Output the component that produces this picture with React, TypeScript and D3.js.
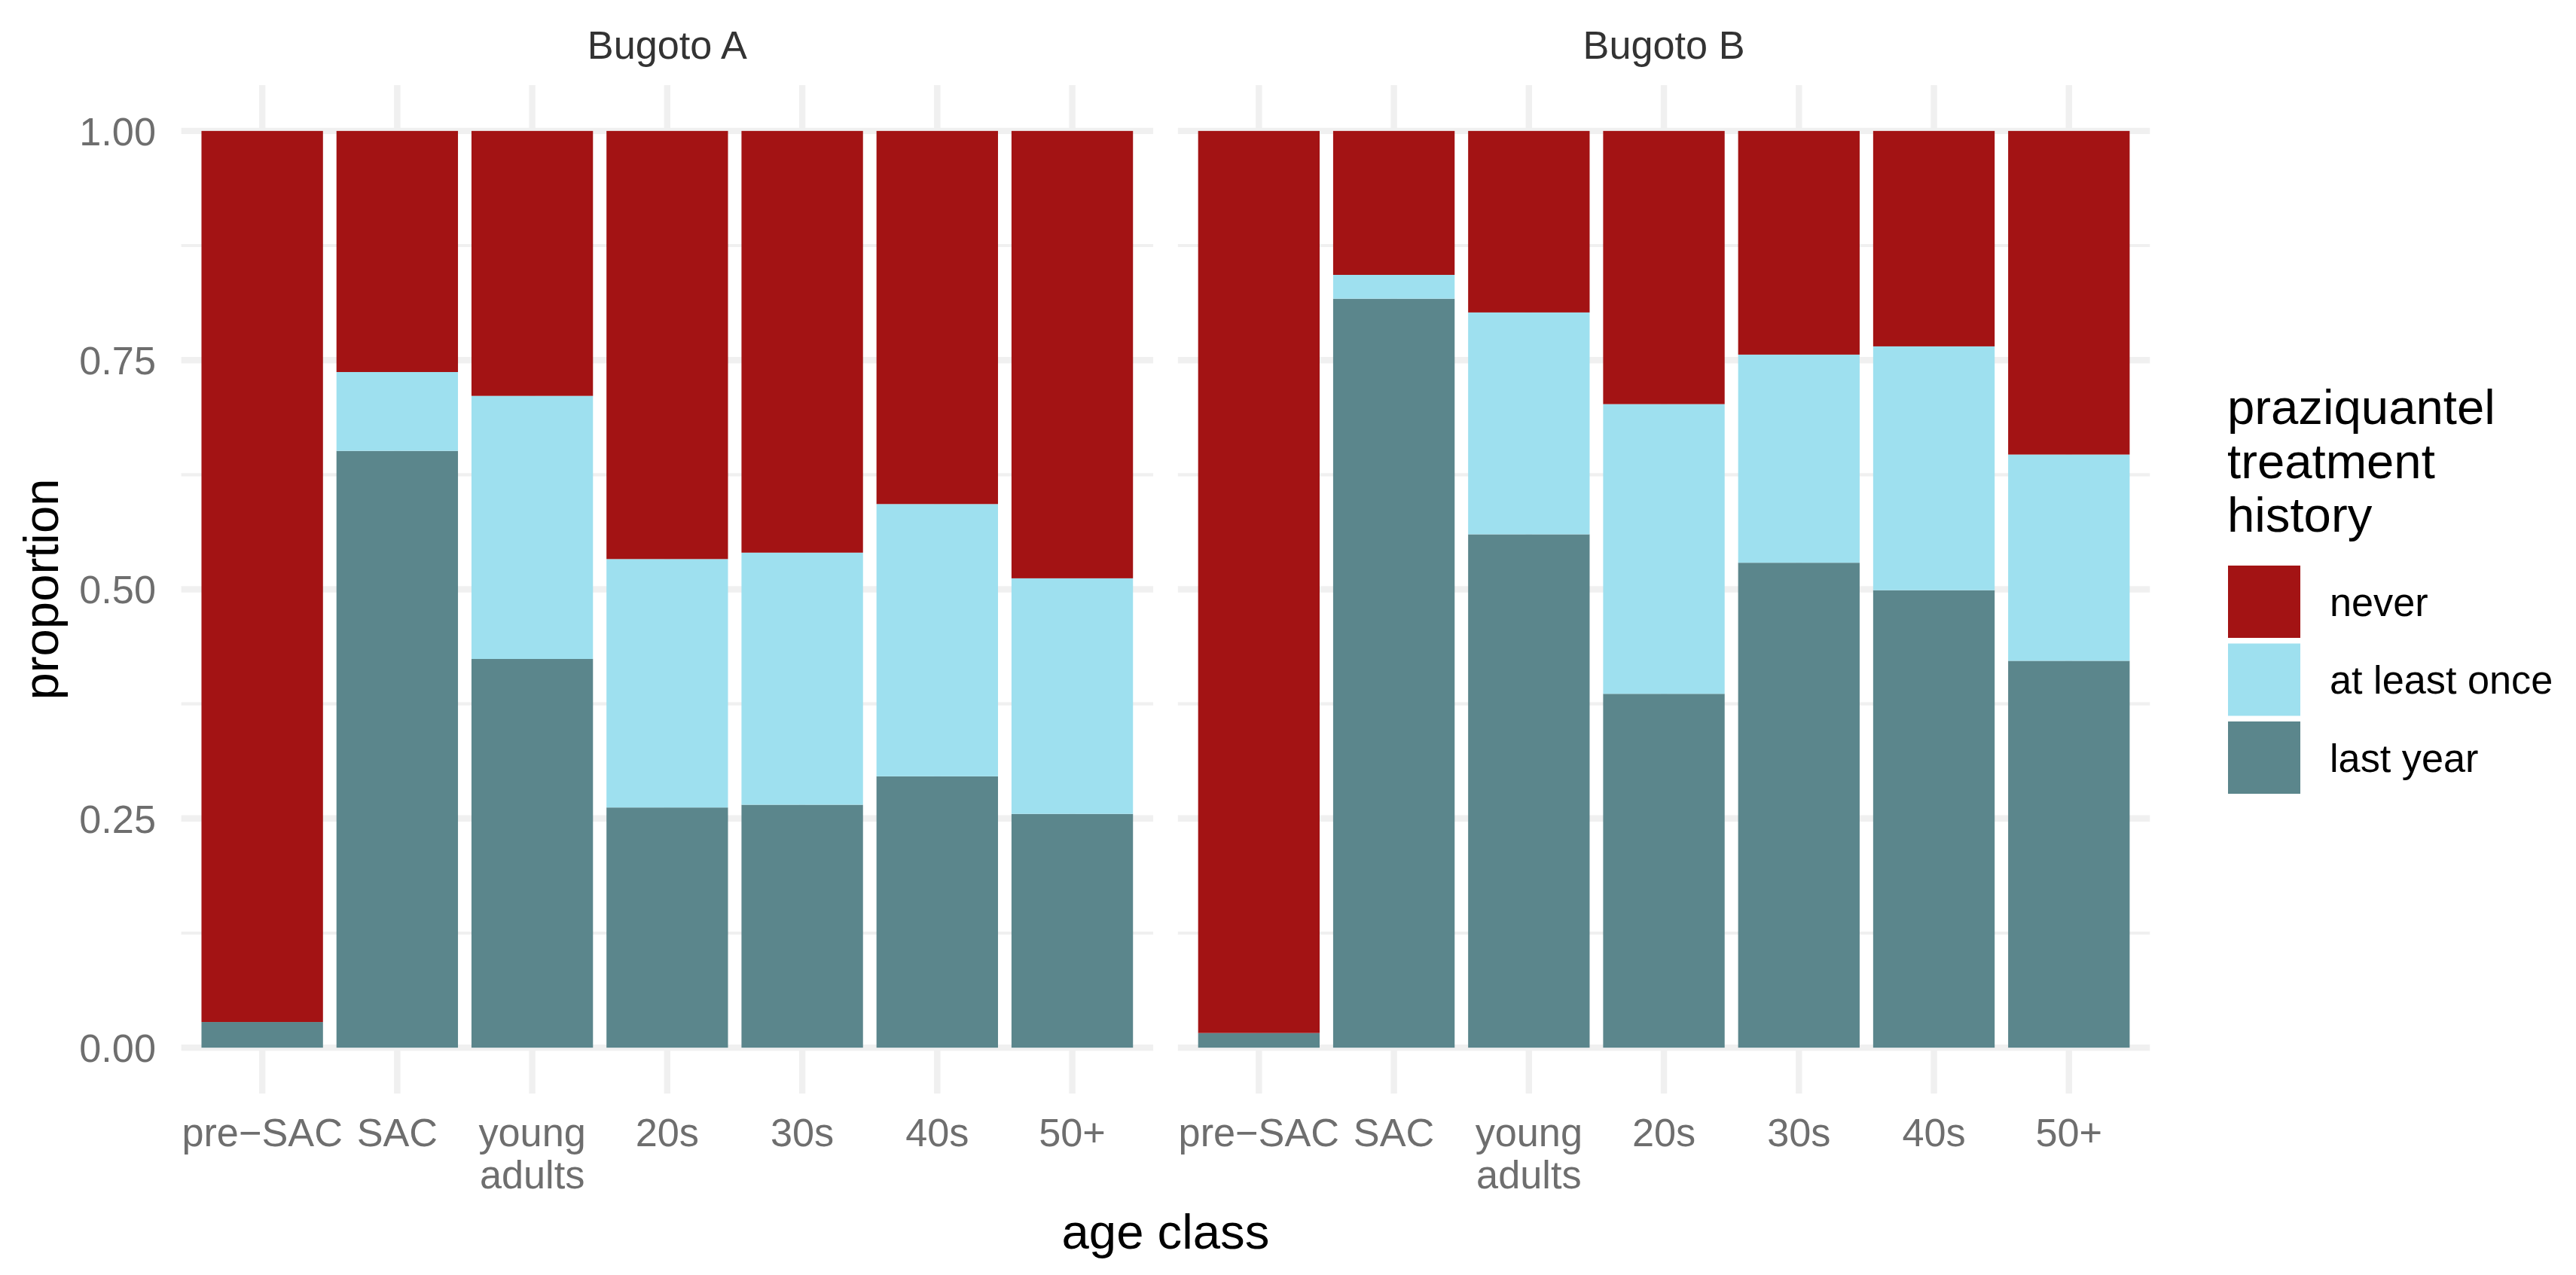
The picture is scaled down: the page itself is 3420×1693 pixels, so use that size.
import React from 'react';
import * as d3 from 'd3';

// age classes, in axis order
const ageClasses = ['pre-SAC', 'SAC', 'young adults', '20s', '30s', '40s', '50+'];
const tickLabels = [['pre\u2212SAC'], ['SAC'], ['young', 'adults'], ['20s'], ['30s'], ['40s'], ['50+']];
const sites = ['Bugoto A', 'Bugoto B'];

// treatment history levels, bottom of the stack first
const historyKeys = ['last year', 'at least once', 'never'];
const legendOrder = ['never', 'at least once', 'last year'];
const historyColors = ['#5B868C', '#9EE0EF', '#A31314'];

// proportions
const lastYearA = [0.028, 0.651, 0.424, 0.262, 0.265, 0.296, 0.255];
const atLeastOnceA = [0.0, 0.086, 0.287, 0.271, 0.275, 0.297, 0.257];
const neverA = [0.972, 0.263, 0.289, 0.467, 0.46, 0.407, 0.488];

const lastYearB = [0.016, 0.817, 0.56, 0.386, 0.529, 0.499, 0.422];
const atLeastOnceB = [0.0, 0.026, 0.242, 0.316, 0.227, 0.266, 0.225];
const neverB = [0.984, 0.157, 0.198, 0.298, 0.244, 0.235, 0.353];

const yTicks = [0, 0.25, 0.5, 0.75, 1];
const yMinor = [0.125, 0.375, 0.625, 0.875];

const W = 3420;
const H = 1693;
const FONT = "'Liberation Sans', Arial, Helvetica, sans-serif";
const pt = 5.9375; // px per pt

export default function App(): JSX.Element {
  const panelLeft = 240.6;
  const panelGap = 32.7;
  const panelW = 1290.5;
  const panelTop = 113;
  const panelBottom = 1452;

  const tables = [
    { site: sites[0], ly: lastYearA, alo: atLeastOnceA, nv: neverA },
    { site: sites[1], ly: lastYearB, alo: atLeastOnceB, nv: neverB }
  ].map((p) =>
    ageClasses.map((a, i) => ({
      age: a,
      'last year': p.ly[i],
      'at least once': p.alo[i],
      never: p.nv[i]
    }))
  );

  const y = d3.scaleLinear().domain([-0.05, 1.05]).range([panelBottom, panelTop]);
  const color = d3.scaleOrdinal<string, string>().domain(historyKeys).range(historyColors);
  const stack = d3.stack<any>().keys(historyKeys);

  const tickSize = 8.8 * pt;
  const titleSize = 11 * pt;
  const gridCol = '#F0F0F0';
  const tickCol = '#6E6E6E';

  const panels = sites.map((site, pi) => {
    const x0 = panelLeft + pi * (panelW + panelGap);
    const x = d3
      .scaleBand()
      .domain(ageClasses)
      .range([x0, x0 + panelW])
      .paddingInner(0.1)
      .paddingOuter(0.15);
    const series = stack(tables[pi]);
    return (
      <g key={site}>
        {yMinor.map((t) => (
          <line key={'mn' + t} x1={x0} x2={x0 + panelW} y1={y(t)} y2={y(t)} stroke={gridCol} strokeWidth={4.2} />
        ))}
        {yTicks.map((t) => (
          <line key={'mj' + t} x1={x0} x2={x0 + panelW} y1={y(t)} y2={y(t)} stroke={gridCol} strokeWidth={8.4} />
        ))}
        {ageClasses.map((a) => {
          const cx = (x(a) as number) + x.bandwidth() / 2;
          return <line key={'v' + a} x1={cx} x2={cx} y1={panelTop} y2={panelBottom} stroke={gridCol} strokeWidth={8.4} />;
        })}
        {series.map((s) =>
          s.map((d: any) => (
            <rect
              key={s.key + d.data.age}
              x={x(d.data.age)}
              width={x.bandwidth()}
              y={y(d[1])}
              height={Math.max(0, y(d[0]) - y(d[1]))}
              fill={color(s.key)}
            />
          ))
        )}
        <text
          x={x0 + panelW / 2}
          y={78}
          textAnchor="middle"
          fontSize={tickSize}
          fill="#333333"
          fontFamily={FONT}
        >
          {site}
        </text>
        {ageClasses.map((a, i) => {
          const cx = (x(a) as number) + x.bandwidth() / 2;
          return (
            <text key={'xl' + a} x={cx} y={1522} textAnchor="middle" fontSize={tickSize} fill={tickCol} fontFamily={FONT}>
              {tickLabels[i].map((ln, j) => (
                <tspan key={j} x={cx} dy={j === 0 ? 0 : 56}>
                  {ln}
                </tspan>
              ))}
            </text>
          );
        })}
      </g>
    );
  });

  const legendX = 2958;
  const keySize = 96;
  const keyStep = 103.5;
  const keyTop = 751;

  return (
    <svg
      width={W}
      height={H}
      viewBox={`0 0 ${W} ${H}`}
      style={{ position: 'absolute', left: 0, top: 0, background: '#ffffff', display: 'block' }}
    >
      <rect x={0} y={0} width={W} height={H} fill="#ffffff" />
      {panels}
      {yTicks.map((t) => (
        <text
          key={'yl' + t}
          x={207}
          y={y(t)}
          dy="0.36em"
          textAnchor="end"
          fontSize={tickSize}
          fill={tickCol}
          fontFamily={FONT}
        >
          {t.toFixed(2)}
        </text>
      ))}
      <text
        transform={`translate(77, ${(panelTop + panelBottom) / 2}) rotate(-90)`}
        textAnchor="middle"
        fontSize={titleSize}
        fill="#000000"
        fontFamily={FONT}
      >
        proportion
      </text>
      <text
        x={panelLeft + panelW + panelGap / 2}
        y={1658}
        textAnchor="middle"
        fontSize={titleSize}
        fill="#000000"
        fontFamily={FONT}
      >
        age class
      </text>
      <text x={legendX - 1} y={563} fontSize={titleSize} fill="#000000" fontFamily={FONT}>
        {['praziquantel', 'treatment', 'history'].map((ln, j) => (
          <tspan key={j} x={legendX - 1} dy={j === 0 ? 0 : 71.5}>
            {ln}
          </tspan>
        ))}
      </text>
      {legendOrder.map((k, i) => (
        <g key={'lg' + k}>
          <rect x={legendX} y={keyTop + i * keyStep} width={keySize} height={keySize} fill={color(k)} />
          <text
            x={3093}
            y={keyTop + i * keyStep + keySize / 2}
            dy="0.36em"
            fontSize={tickSize}
            fill="#000000"
            fontFamily={FONT}
          >
            {k}
          </text>
        </g>
      ))}
    </svg>
  );
}
